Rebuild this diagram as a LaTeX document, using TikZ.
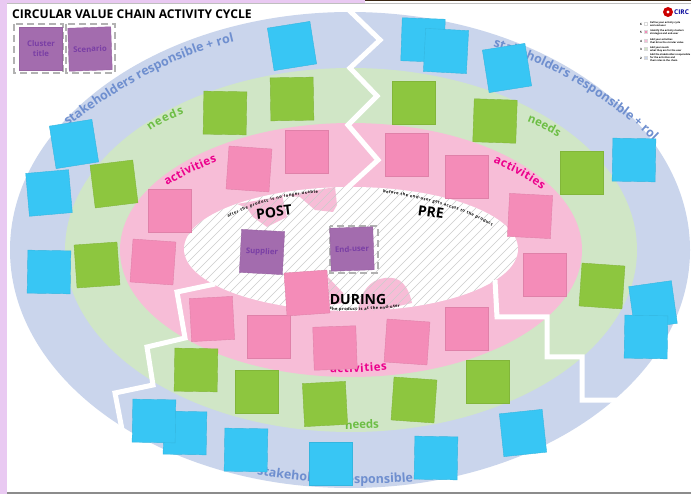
\documentclass[tikz,border=0pt]{standalone}
\usepackage{fontspec}
\setmainfont{Open Sans}
\usetikzlibrary{decorations.text}
\definecolor{lilac}{HTML}{E9C9F2}
\definecolor{ringblue}{HTML}{CAD5EC}
\definecolor{ringgreen}{HTML}{D0E6C6}
\definecolor{ringpink}{HTML}{F7BDD7}
\definecolor{nblue}{HTML}{38C6F4}
\definecolor{ngreen}{HTML}{8DC63F}
\definecolor{npink}{HTML}{F48CB8}
\definecolor{npurple}{HTML}{A36CAE}
\definecolor{tblue}{HTML}{6F8FCF}
\definecolor{tgreen}{HTML}{6DBE45}
\definecolor{tpink}{HTML}{EC008C}
\definecolor{tpurple}{HTML}{7A3FA5}
\tikzset{
  sticky/.style={minimum size=43pt,inner sep=0pt,draw=#1!92!black,line width=.4pt,fill=#1,align=center},
  dashbox/.style={draw=black!30,line width=1.3pt,dash pattern=on 7pt off 4pt},
  cutline/.style={draw=white,line width=5pt,miter limit=10},
  hatchline/.style={draw=black!20,line width=.5pt},
  stickytext/.style={font=\fontsize{7.8}{10}\selectfont\bfseries,text=tpurple},
  legendtext/.style={font=\fontsize{2.4}{3}\selectfont\bfseries,anchor=west,inner sep=0pt,align=left},
  bandtext/.style={decorate,decoration={text along path,text align=fit to path,raise=0pt,text={#1}}}
}
\newcommand{\bt}{\fontsize{12.5}{14}\selectfont\bfseries\color{tblue}}
\newcommand{\gt}{\fontsize{11.5}{13}\selectfont\bfseries\color{tgreen}}
\newcommand{\pt}{\fontsize{11.5}{13}\selectfont\bfseries\color{tpink}}
\newcommand{\st}{\fontsize{4}{5}\selectfont\bfseries\color{black}}
\begin{document}
\begin{tikzpicture}[x=1pt,y=-1pt]
\useasboundingbox (0,0) rectangle (691,494);
\fill[white] (0,0) rectangle (691,494);
\fill[lilac] (0,0) rectangle (7,494);
\fill[lilac] (0,0) rectangle (365,3);
\fill[black!70!brown] (365,0) rectangle (691,1);
\fill[black!25] (7,3.5) rectangle (691,4.5);
\fill[black!45] (7,492) rectangle (691,494);
% rings
\fill[ringblue] (350,250) ellipse [x radius=340,y radius=238];
\fill[ringgreen] (351,250) ellipse [x radius=286,y radius=182];
\fill[ringpink] (351,250) ellipse [x radius=231,y radius=127];
\fill[white] (351,249) ellipse [x radius=167,y radius=62];
% pink blobs on the centre
\fill[ringpink] (237,204) -- (335,187) -- (337,205) -- (333,212) -- (315,210) -- (300,197) -- (282,195) -- (287,217) -- (267,227) -- (253,217) -- (247,208) -- cycle;
\fill[ringpink] (328,277) -- (343,293) -- (343,303) -- (330,305) -- cycle;
\fill[ringpink] (358,313) .. controls (358,295) and (370,279) .. (385,278) .. controls (400,276) and (408,285) .. (412,303) -- (390,308) -- (390,313) -- cycle;
\begin{scope}
\clip (351,249) ellipse [x radius=167,y radius=62];
\foreach \hx in {30,39,...,540}
  \draw[hatchline] (\hx,330) -- (\hx+150,180);
\end{scope}
% cuts
\draw[cutline] (345,6) -- (352,13) -- (380,40) -- (350,68) -- (377,96) -- (348,125) -- (378,160) -- (345,190);
\draw[cutline] (215,284) -- (177,292) -- (185,338) -- (147,347) -- (153,385) -- (115,393) -- (124,440);
\draw[cutline] (495,280) -- (497,317) -- (547,317) -- (547,357) -- (582,357) -- (582,400) -- (620,400);
% band labels
\path[bandtext={|\bt|stakeholders responsible + role}] (68,126) .. controls (105,98) and (165,58) .. (233,42);
\path[bandtext={|\bt|stakeholders responsible + role}] (493,47) .. controls (545,62) and (605,95) .. (652,140);
\path[bandtext={|\bt|stakeholders responsible + role}] (257,474) .. controls (300,484) and (400,488) .. (447,476);
\path[bandtext={|\gt|needs}] (150,131) .. controls (160,124) and (172,118) .. (184,114);
\path[bandtext={|\gt|needs}] (527,122) .. controls (538,126) and (548,131) .. (558,137);
\path[bandtext={|\gt|needs}] (345,429) .. controls (355,429) and (368,429) .. (379,428);
\path[bandtext={|\pt|activities}] (167,186) .. controls (183,176) and (200,168) .. (217,162);
\path[bandtext={|\pt|activities}] (493,163) .. controls (510,170) and (527,179) .. (542,190);
\path[bandtext={|\pt|activities}] (330,372) .. controls (350,373) and (368,372) .. (387,370);
% centre labels
\path[bandtext={|\st|after the product is no longer usable}] (228,218) .. controls (255,204) and (285,195) .. (318,193);
\path[bandtext={|\st|before the end-user gets access to the product}] (383,193) .. controls (420,197) and (460,208) .. (492,226);
\path[bandtext={|\st|the product is at the end-user}] (330,310) .. controls (355,311) and (380,310) .. (400,307);
\node[font=\fontsize{14}{16}\selectfont\bfseries,rotate=7,inner sep=0pt] (post) at (274,212) {POST};
\node[font=\fontsize{14}{16}\selectfont\bfseries,rotate=-8,inner sep=0pt] (pre) at (431,212) {PRE};
\node[font=\fontsize{14}{16}\selectfont\bfseries,inner sep=0pt] (during) at (358,299) {DURING};
% dashed frames
\draw[dashbox] (14,24) rectangle (63,73);
\draw[dashbox] (66,24) rectangle (115,73);
\draw[dashbox] (330,226) rectangle (378,273);
% stickies
\foreach \sx/\sy/\sr [count=\si] in {292/46/9,74/144/9,49/193/5,49/272/-1,423/40/-2,446/51/-3,507/68/9,634/160/-1,653/305/8,646/337/-1,523/433/6,436/458/-1,331/464/0,246/450/-1,185/433/-1,154/421/-1}
  \node[sticky=nblue,rotate=\sr] (blue\si) at (\sx,\sy) {};
\foreach \sx/\sy/\sr [count=\si] in {225/113/-1,292/99/1,114/184/7,97/265/4,414/103/0,495/121/-2,582/173/0,602/286/-4,488/382/0,414/400/-4,325/404/3,257/392/0,196/370/-1}
  \node[sticky=ngreen,rotate=\sr] (green\si) at (\sx,\sy) {};
\foreach \sx/\sy/\sr [count=\si] in {170/211/0,249/169/-4,307/152/0,153/262/-4,407/155/0,467/177/0,530/216/-3,545/275/0,467/329/0,407/342/-4,335/348/2,269/337/0,212/319/3,307/293/4}
  \node[sticky=npink,rotate=\sr] (pink\si) at (\sx,\sy) {};
\node[sticky=npurple,stickytext] (cluster) at (41,49) {Cluster\\title};
\node[sticky=npurple,stickytext,rotate=2] (scenario) at (90,49) {Scenario};
\node[sticky=npurple,stickytext,rotate=-3] (supplier) at (262,252) {Supplier};
\node[sticky=npurple,stickytext,rotate=2] (enduser) at (352,249) {End-user};
% title
\node[font=\fontsize{12.1}{14}\selectfont\bfseries,anchor=west,inner sep=0pt] (title) at (12,14) {CIRCULAR VALUE CHAIN ACTIVITY CYCLE};
% logo and legend
\fill[red!80!black] (668,12) circle [radius=5];
\fill[white] (668,12) circle [radius=1.6];
\node[font=\fontsize{6.5}{7}\selectfont\bfseries,text=blue!60!black,anchor=west,inner sep=0pt] (logo) at (674,12) {CIRC};
\foreach \ly/\lc/\ln/\lt [count=\li] in {
  24/white/6/{Define your activity cycle\\and end-user},
  32/npink/5/{Identify the activity clusters\\strategies and end-user},
  41/ringpink/4/{Add your activities\\that drive the circular value},
  49/ringgreen/3/{Add your needs\\what they are for the user},
  58/ringblue/2/{Add the stakeholders responsible\\for the activities and\\their roles in the chain}}{
  \node[font=\fontsize{3}{3}\selectfont\bfseries,inner sep=0pt] (legnum\li) at (641,\ly) {\ln};
  \node[draw=black!15,line width=.2pt,fill=\lc,minimum size=3pt,inner sep=0pt] (legswatch\li) at (646,\ly) {};
  \node[legendtext] (legtext\li) at (650,\ly) {\lt};
}
\end{tikzpicture}
\end{document}
